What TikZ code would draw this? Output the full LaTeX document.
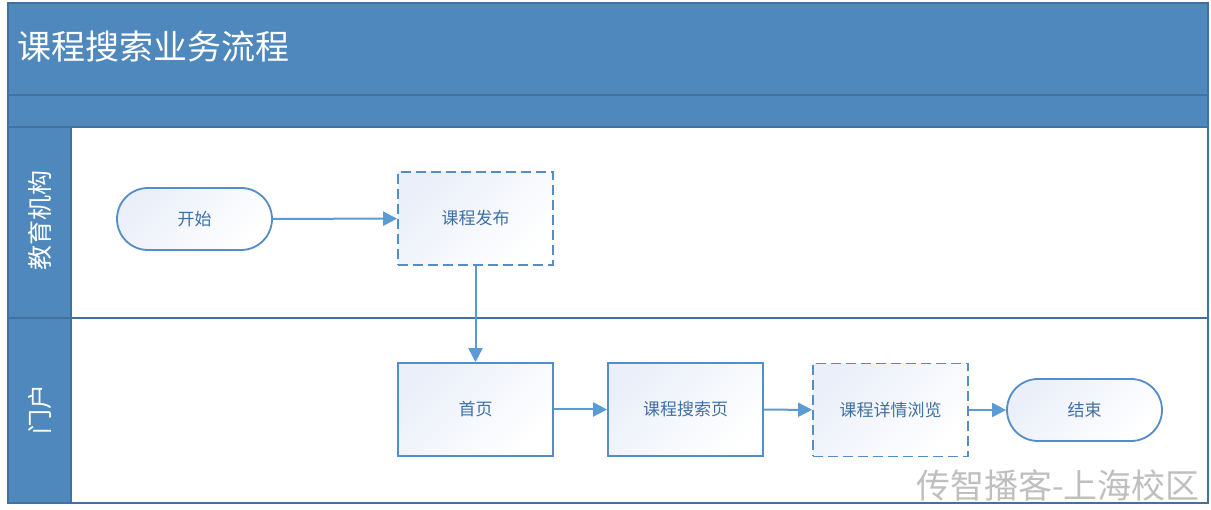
\documentclass[tikz,border=0pt]{standalone}
\usepackage{fontspec}
\setmainfont{Noto Sans CJK SC}
\usetikzlibrary{arrows.meta}
\definecolor{band}{RGB}{79,136,188}
\definecolor{bandline}{RGB}{65,113,156}
\definecolor{nodeline}{RGB}{84,141,200}
\definecolor{nodetext}{RGB}{62,112,165}
\definecolor{nodefill}{RGB}{234,239,249}
\definecolor{arrowc}{RGB}{91,155,213}
\begin{document}
\begin{tikzpicture}[x = 1pt, y = -1pt,
  lane/.style = {draw = bandline, line width = 1.8pt},
  task/.style = {draw = nodeline, line width = 1.8pt, minimum width = 155pt, minimum height = 93pt,
    top color = nodefill, bottom color = white, shading angle = 45, text = nodetext, font = \fontsize{17}{20}\selectfont},
  subtask/.style = {task, dashed, dash pattern = on 10pt off 5pt},
  term/.style = {task, rounded corners = 31pt, minimum height = 62pt},
  flow/.style = {-{Triangle[length = 14pt, width = 14pt]}, arrowc, line width = 2pt}]
\useasboundingbox[fill = white] (0, 0) rectangle (1211, 510);
% swimlane frame
\fill[band] (8, 3) rectangle (1208, 127);
\draw[lane] (8, 95) -- (1208, 95);
\fill[band] (8, 127) rectangle (71, 503);
\draw[lane] (71, 127) -- (71, 503);
\draw[lane] (8, 127) -- (1208, 127);
\draw[lane] (8, 318) -- (1208, 318);
\draw[lane] (8, 3) rectangle (1208, 503);
\node[anchor = west, text = white, font = \fontsize{34}{38}\selectfont] (title) at (14, 47) {课程搜索业务流程};
\node[rotate = 90, text = white, font = \fontsize{25}{28}\selectfont] (jigou) at (40, 221) {教育机构};
\node[rotate = 90, text = white, font = \fontsize{25}{28}\selectfont] (menhu) at (40, 410) {门户};
% steps
\node[term] (start) at (194.5, 219) {开始};
\node[subtask] (publish) at (475.5, 218.5) {课程发布};
\node[task] (home) at (475.5, 409.5) {首页};
\node[task] (search) at (685.5, 409.5) {课程搜索页};
\node[subtask] (detail) at (890.5, 410) {课程详情浏览};
\node[term] (end) at (1084.5, 410) {结束};
\draw[flow] (start) -- (publish);
\draw[flow] (publish) -- (home);
\draw[flow] (home) -- (search);
\draw[flow] (search) -- (detail);
\draw[flow] (detail) -- (end);
% watermark
\node[text = gray!50, font = \fontsize{34}{38}\selectfont] (mark) at (1058, 485) {传智播客-上海校区};
\end{tikzpicture}
\end{document}
